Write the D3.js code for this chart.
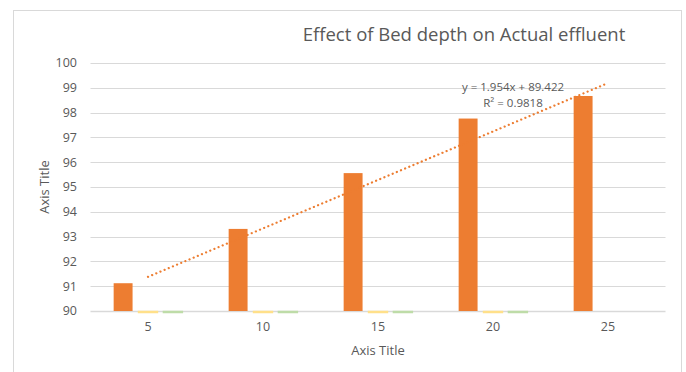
<!DOCTYPE html>
<html>
<head>
<meta charset="utf-8">
<script src="https://cdn.jsdelivr.net/npm/d3@7"></script>
<style>
  html, body { margin: 0; padding: 0; background: #fff; }
  svg { display: block; font-family: "Open Sans", "Liberation Sans", sans-serif; }
</style>
</head>
<body>
<svg id="chart" width="686" height="372"></svg>
<script>
// Bed depth categories and the measured series
const categories = ["5", "10", "15", "20", "25"];
const actualEffluent = [91.12, 93.31, 95.56, 97.76, 98.67];
const seriesB = [90, 90, 90, 90, null];
const seriesC = [90, 90, 90, 90, null];
const yTicks = [90, 91, 92, 93, 94, 95, 96, 97, 98, 99, 100];

// Linear trend fitted to the actual effluent series (x = 1..5)
const trendSlope = 1.954;
const trendIntercept = 89.422;
const trendLabel = "y = 1.954x + 89.422";
const r2Label = "R² = 0.9818";

const seriesColors = ["#ED7D31", "#FFE08A", "#BEDCA8"];

const svg = d3.select("#chart");
const plot = { left: 90.5, right: 665.5, top: 63, bottom: 311 };

// chart frame
svg.append("rect")
  .attr("x", 13.5).attr("y", 10.5)
  .attr("width", 668).attr("height", 380)
  .attr("fill", "#fff").attr("stroke", "#d9d9d9").attr("stroke-width", 1);

const x = d3.scaleBand().domain(categories).range([plot.left, plot.right]).paddingInner(0).paddingOuter(0);
const y = d3.scaleLinear().domain([90, 100]).range([plot.bottom, plot.top]);

const seriesKeys = ["a", "b", "c"];
const xs = d3.scaleBand().domain(seriesKeys).range([0, x.bandwidth()]).paddingInner(0.24).paddingOuter(0.93);

// gridlines
svg.append("g")
  .selectAll("line")
  .data(yTicks)
  .join("line")
  .attr("x1", plot.left).attr("x2", plot.right)
  .attr("y1", d => Math.round(y(d)) + 0.5).attr("y2", d => Math.round(y(d)) + 0.5)
  .attr("stroke", "#d9d9d9").attr("stroke-width", d => d === 90 ? 1.5 : 1);

// y tick labels
svg.append("g")
  .selectAll("text")
  .data(yTicks)
  .join("text")
  .attr("x", 77).attr("y", d => y(d))
  .attr("dy", "0.35em")
  .attr("text-anchor", "end")
  .attr("font-size", 12.5)
  .attr("fill", "#595959")
  .text(d => d);

// x tick labels
svg.append("g")
  .selectAll("text")
  .data(categories)
  .join("text")
  .attr("x", d => x(d) + x.bandwidth() / 2)
  .attr("y", 331)
  .attr("text-anchor", "middle")
  .attr("font-size", 12.5)
  .attr("fill", "#595959")
  .text(d => d);

// bars
const seriesData = [actualEffluent, seriesB, seriesC];
seriesData.forEach((vals, si) => {
  svg.append("g")
    .selectAll("rect")
    .data(vals.map((v, i) => ({ cat: categories[i], v })).filter(d => d.v != null))
    .join("rect")
    .attr("x", d => x(d.cat) + xs(seriesKeys[si]))
    .attr("width", xs.bandwidth())
    .attr("y", d => y(d.v) + (d.v === 90 ? 0.5 : 0))
    .attr("height", d => Math.max(0, y(90) - y(d.v)) + (d.v === 90 ? 1 : 0))
    .attr("fill", seriesColors[si])
    .attr("stroke", seriesColors[si])
    .attr("stroke-width", d => d.v === 90 ? 1.5 : 0);
});

// dotted linear trendline across the category centres
const trendPts = categories.map((c, i) => [x(c) + x.bandwidth() / 2, y(trendSlope * (i + 1) + trendIntercept)]);
svg.append("path")
  .attr("d", d3.line()(trendPts))
  .attr("fill", "none")
  .attr("stroke", "#ED7D31")
  .attr("stroke-width", 2.2)
  .attr("stroke-linecap", "round")
  .attr("stroke-dasharray", "0.1 4.4");

// trendline equation
svg.append("text")
  .attr("x", 513).attr("y", 91)
  .attr("text-anchor", "middle")
  .attr("font-size", 11.5)
  .attr("fill", "#595959")
  .text(trendLabel);
svg.append("text")
  .attr("x", 513).attr("y", 107)
  .attr("text-anchor", "middle")
  .attr("font-size", 11.5)
  .attr("fill", "#595959")
  .text(r2Label);

// title
svg.append("text")
  .attr("x", 464).attr("y", 41)
  .attr("text-anchor", "middle")
  .attr("font-size", 18.5)
  .attr("fill", "#595959")
  .text("Effect of Bed depth on Actual effluent");

// axis titles
svg.append("text")
  .attr("x", 378).attr("y", 355)
  .attr("text-anchor", "middle")
  .attr("font-size", 13)
  .attr("fill", "#595959")
  .text("Axis Title");
svg.append("text")
  .attr("transform", "translate(49,187) rotate(-90)")
  .attr("text-anchor", "middle")
  .attr("font-size", 13)
  .attr("fill", "#595959")
  .text("Axis Title");
</script>
</body>
</html>
